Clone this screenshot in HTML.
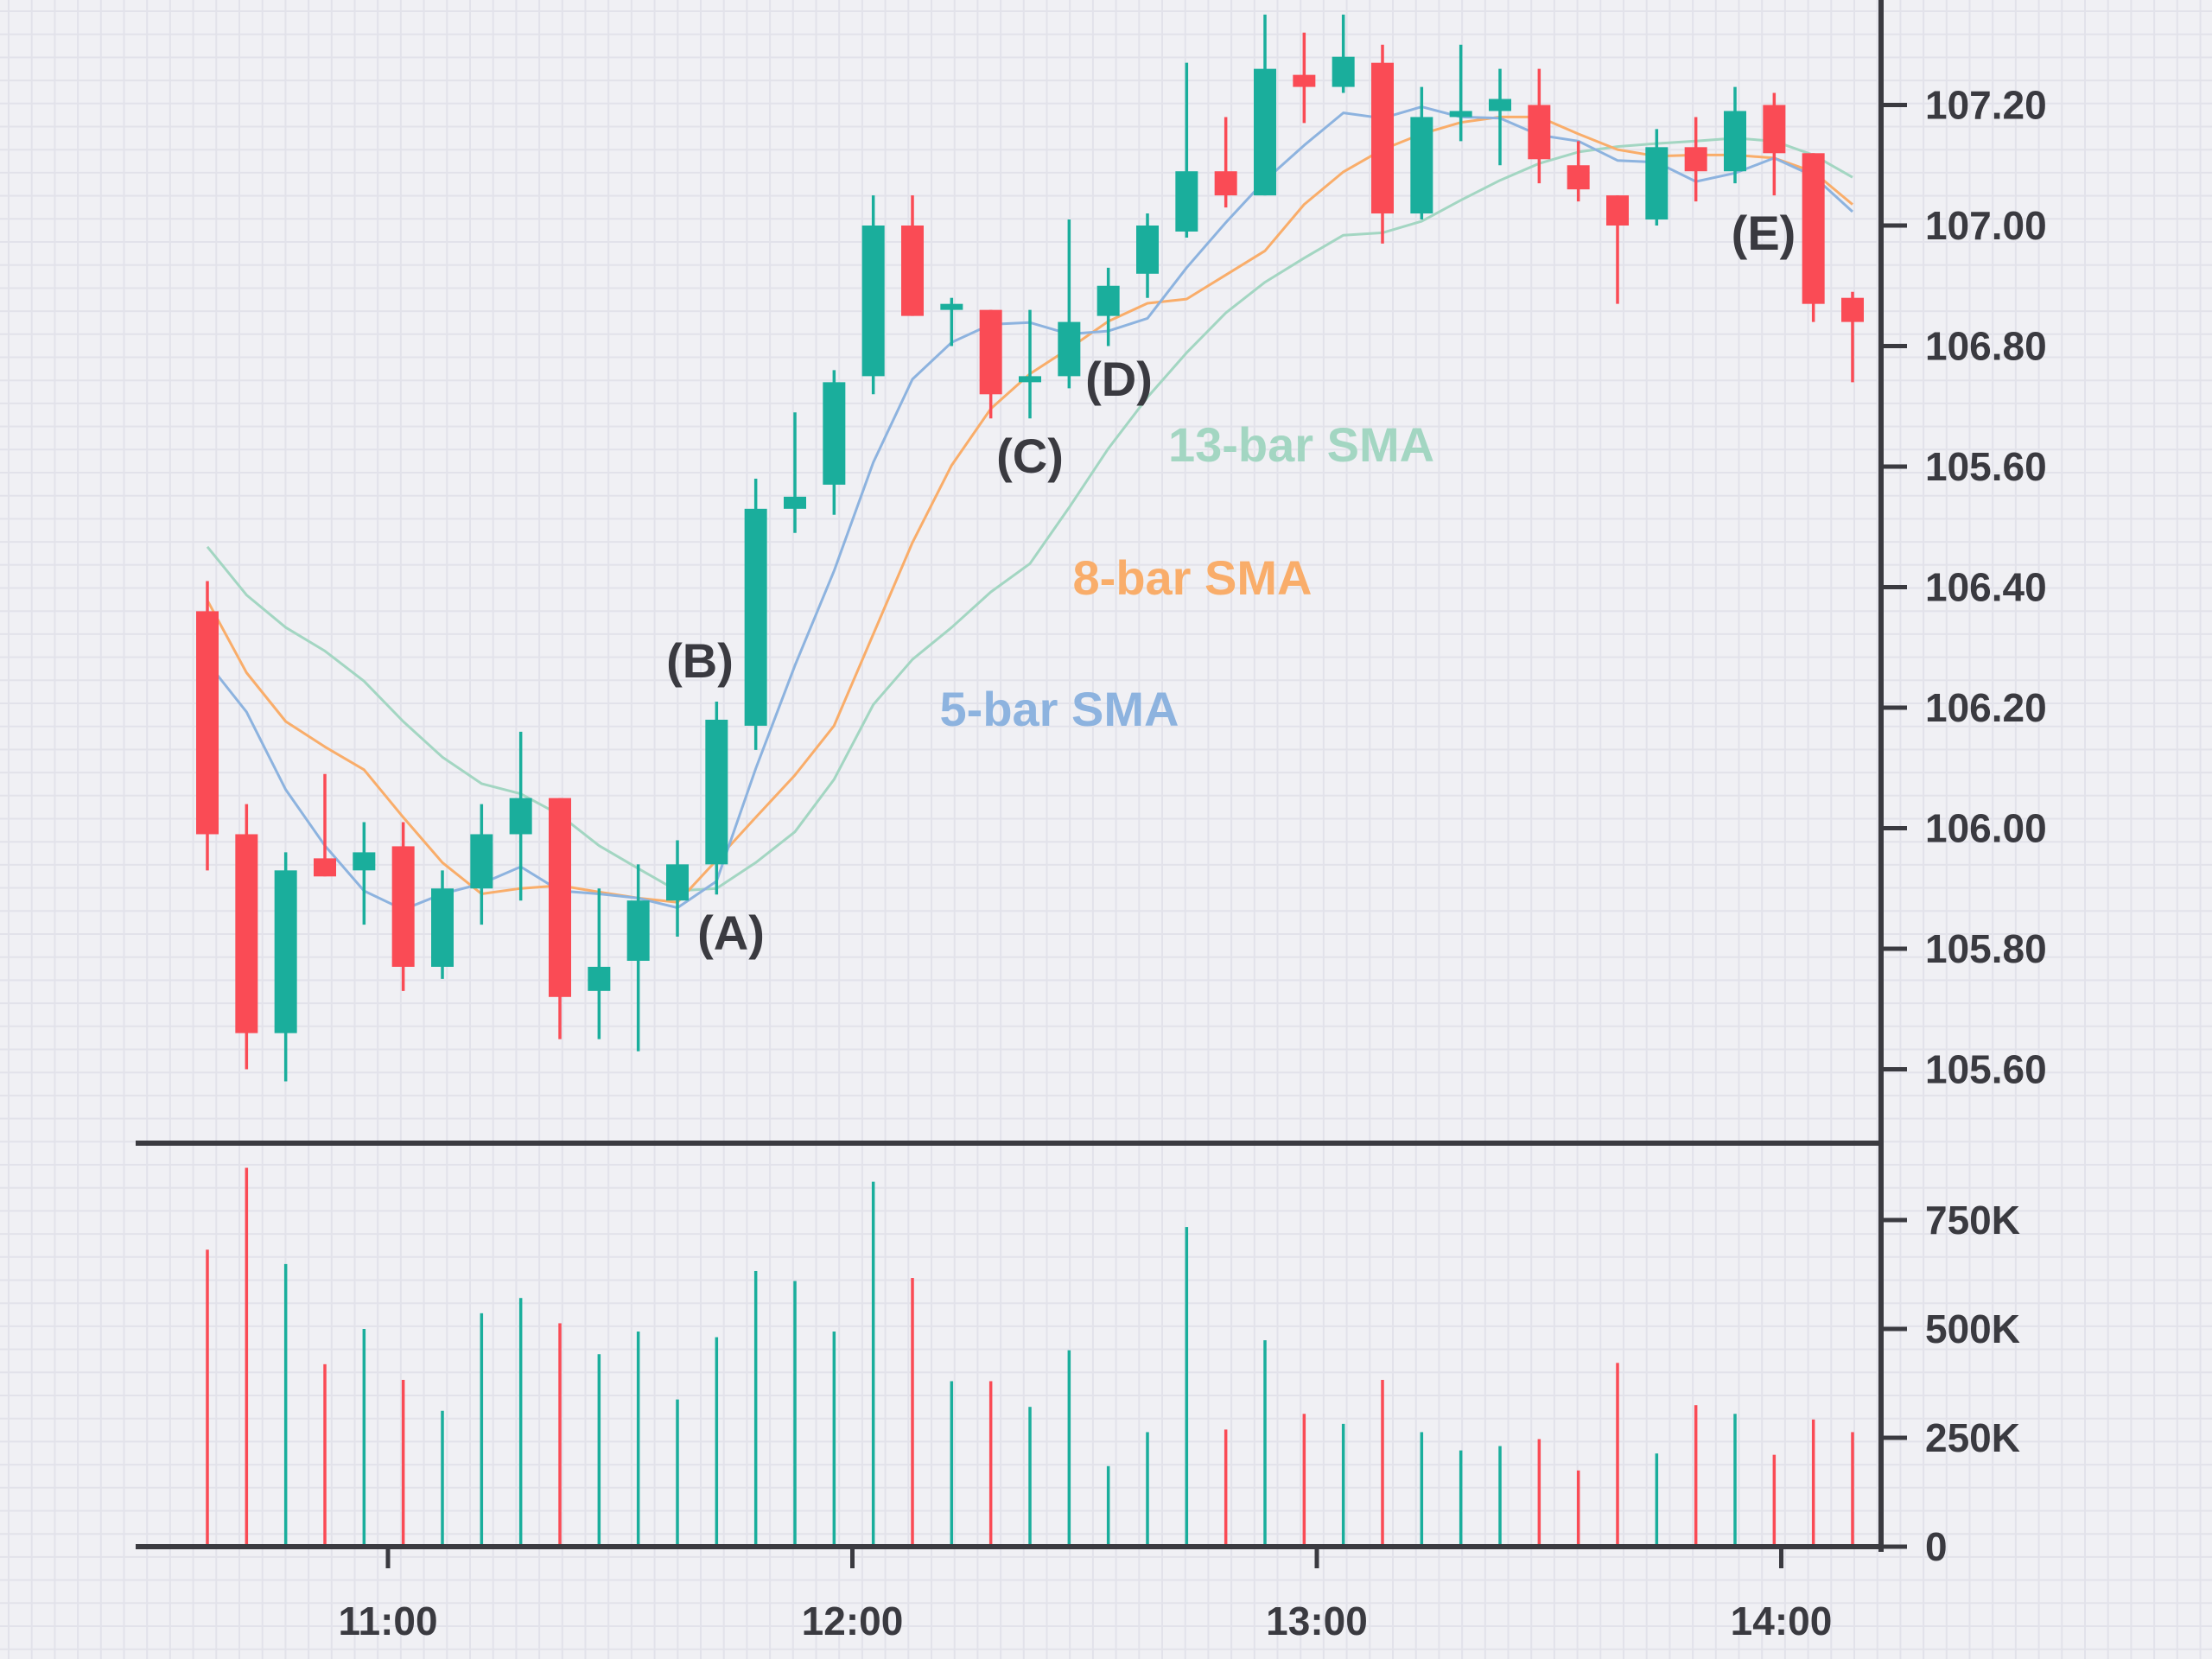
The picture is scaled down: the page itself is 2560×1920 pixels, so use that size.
<!DOCTYPE html>
<html><head><meta charset="utf-8">
<style>
html,body{margin:0;padding:0;background:#f0f0f4;}
svg{display:block;font-family:"Liberation Sans",sans-serif;}
</style></head>
<body>
<svg id="chart" width="2560" height="1920" viewBox="0 0 2560 1920" xmlns="http://www.w3.org/2000/svg">
<rect x="0" y="0" width="2560" height="1920" fill="#f0f0f4"/>
<g id="grid"></g>
<g id="vols"></g>
<g id="smas"></g>
<g id="candles"></g>
<g id="axes"></g>
<g font-size="56" font-weight="bold" fill="#3a3a40" text-anchor="middle">
<text x="846" y="1099">(A)</text>
<text x="810" y="784">(B)</text>
<text x="1192" y="547">(C)</text>
<text x="1295" y="458">(D)</text>
<text x="2041" y="289">(E)</text>
</g>
<g font-size="56" font-weight="bold" text-anchor="middle">
<text x="1506" y="534" fill="#a3d6c2">13-bar SMA</text>
<text x="1380" y="688" fill="#f9ad6a">8-bar SMA</text>
<text x="1226" y="840" fill="#8db3df">5-bar SMA</text>
</g>
</svg>
<script>
const opens  = [106.36,105.99,105.66,105.95,105.93,105.97,105.77,105.90,105.99,106.05,105.73,105.78,105.88,105.94,106.17,106.53,106.57,106.75,107.00,106.86,106.86,106.74,106.75,106.85,106.92,106.99,107.09,107.05,107.25,107.23,107.27,107.02,107.18,107.19,107.20,107.10,107.05,107.01,107.13,107.09,107.20,107.12,106.88];
const highs  = [106.41,106.04,105.96,106.09,106.01,106.01,105.93,106.04,106.16,106.05,105.90,105.94,105.98,106.21,106.58,106.69,106.76,107.05,107.05,106.88,106.86,106.86,107.01,106.93,107.02,107.27,107.18,107.35,107.32,107.35,107.30,107.23,107.30,107.26,107.26,107.14,107.05,107.16,107.18,107.23,107.22,107.12,106.89];
const lows   = [105.93,105.60,105.58,105.92,105.84,105.73,105.75,105.84,105.88,105.65,105.65,105.63,105.82,105.89,106.13,106.49,106.52,106.72,106.85,106.80,106.68,106.68,106.73,106.80,106.88,106.98,107.03,107.05,107.17,107.22,106.97,107.01,107.14,107.10,107.07,107.04,106.87,107.00,107.04,107.07,107.05,106.84,106.74];
const closes = [105.99,105.66,105.93,105.92,105.96,105.77,105.90,105.99,106.05,105.72,105.77,105.88,105.94,106.18,106.53,106.55,106.74,107.00,106.85,106.87,106.72,106.75,106.84,106.90,107.00,107.09,107.05,107.26,107.23,107.28,107.02,107.18,107.19,107.21,107.11,107.06,107.00,107.13,107.09,107.19,107.12,106.87,106.84];
const volumes = [682,870,649,419,500,383,312,536,571,513,442,494,338,481,633,610,494,838,617,380,380,321,451,185,263,734,269,474,305,282,383,263,221,231,247,175,422,214,325,305,211,292,263];
const sma5  = [106.275,106.193,106.064,105.971,105.896,105.865,105.891,105.908,105.936,105.896,105.891,105.884,105.868,105.912,106.099,106.27,106.427,106.607,106.745,106.806,106.836,106.839,106.82,106.825,106.846,106.93,107.005,107.075,107.133,107.187,107.178,107.197,107.18,107.178,107.15,107.14,107.108,107.105,107.073,107.087,107.112,107.082,107.023];
const sma8  = [106.378,106.258,106.177,106.135,106.097,106.018,105.943,105.891,105.90,105.905,105.894,105.884,105.877,105.947,106.018,106.088,106.17,106.322,106.474,106.602,106.696,106.754,106.796,106.841,106.871,106.878,106.918,106.958,107.035,107.089,107.126,107.152,107.171,107.18,107.18,107.152,107.126,107.115,107.117,107.117,107.112,107.089,107.035];
const sma13 = [106.467,106.387,106.333,106.294,106.244,106.177,106.118,106.074,106.057,106.022,105.971,105.933,105.896,105.90,105.943,105.994,106.081,106.205,106.28,106.333,106.392,106.439,106.532,106.63,106.715,106.789,106.855,106.906,106.946,106.984,106.988,107.007,107.042,107.075,107.103,107.122,107.131,107.136,107.14,107.145,107.14,107.117,107.08];
const priceTicks = [107.40,107.20,107.00,106.80,106.60,106.40,106.20,106.00,105.80,105.60];
const priceTickLabels = ["107.40","107.20","107.00","106.80","105.60","106.40","106.20","106.00","105.80","105.60"];
const volTicks = [0,250,500,750];
const volTickLabels = ["0","250K","500K","750K"];
const timeTicks = [0,60,120,180];
const timeTickLabels = ["11:00","12:00","13:00","14:00"];

const NS="http://www.w3.org/2000/svg";
const GREEN="#1aae9c", RED="#fa4b55";
function xOfMin(t){return 449 + t*537.5/60;}
function xOfBar(i){return 240 + i*(2144-240)/(opens.length-1);}
function yP(p){return 261 + (107 - p)*697.5;}
function yV(v){return 1790 - v*126/250;}
function mk(tag,attrs,parent){const e=document.createElementNS(NS,tag);for(const k in attrs)e.setAttribute(k,attrs[k]);parent.appendChild(e);return e;}

const grid=document.getElementById('grid');
for(let x=10;x<2560;x+=26.7){const l=mk('line',{x1:x,y1:0,x2:x,y2:1920,stroke:'#e2e2ea','stroke-width':2},grid);

}
for(let y=13;y<1920;y+=26.7){const l=mk('line',{x1:0,y1:y,x2:2560,y2:y,stroke:'#e2e2ea','stroke-width':2},grid);

}

const vg=document.getElementById('vols');
volumes.forEach((v,i)=>{const up=closes[i]>=opens[i];
const r=mk('rect',{x:xOfBar(i)-1.75,y:yV(v),width:3.5,height:1790-yV(v),fill:up?GREEN:RED},vg);

});

const sg=document.getElementById('smas');
[[sma13,'#a3d6c2','sma13-line'],[sma8,'#f9ad6a','sma8-line'],[sma5,'#8db3df','sma5-line']].forEach(([arr,c,n])=>{
const d=arr.map((v,i)=>(i?'L':'M')+xOfBar(i).toFixed(1)+' '+yP(v).toFixed(1)).join(' ');
const p=mk('path',{d:d,fill:'none',stroke:c,'stroke-width':3,'stroke-linejoin':'round'},sg);

});

const cg=document.getElementById('candles');
opens.forEach((o,i)=>{const c=closes[i];const up=c>=o;const col=up?GREEN:RED;const x=xOfBar(i);
const w=mk('line',{x1:x,x2:x,y1:yP(highs[i]),y2:yP(lows[i]),stroke:col,'stroke-width':3.5},cg);


const top=yP(Math.max(o,c)),bot=yP(Math.min(o,c));
const b=mk('rect',{x:x-13,y:top,width:26,height:Math.max(bot-top,4),fill:col},cg);

});

const ag=document.getElementById('axes');
const AX='#3a3a40';
let e;
e=mk('line',{x1:2177,y1:0,x2:2177,y2:1796,stroke:AX,'stroke-width':6},ag);


e=mk('line',{x1:157,y1:1323,x2:2180,y2:1323,stroke:AX,'stroke-width':6},ag);


e=mk('line',{x1:157,y1:1790,x2:2180,y2:1790,stroke:AX,'stroke-width':6},ag);


priceTicks.forEach((p,i)=>{const y=yP(p);
const t=mk('line',{x1:2177,x2:2207,y1:y,y2:y,stroke:AX,'stroke-width':5},ag);


const tx=mk('text',{x:2228,y:y+16,'font-size':46,'font-weight':'bold',fill:AX},ag);tx.textContent=priceTickLabels[i];

});
volTicks.forEach((v,i)=>{const y=yV(v);
const t=mk('line',{x1:2177,x2:2207,y1:y,y2:y,stroke:AX,'stroke-width':5},ag);


const tx=mk('text',{x:2228,y:y+16,'font-size':46,'font-weight':'bold',fill:AX},ag);tx.textContent=volTickLabels[i];

});
timeTicks.forEach((t0,i)=>{const x=xOfMin(t0);
const t=mk('line',{x1:x,x2:x,y1:1790,y2:1815,stroke:AX,'stroke-width':5},ag);


const tx=mk('text',{x:x,y:1892,'font-size':46,'font-weight':'bold',fill:AX,'text-anchor':'middle'},ag);tx.textContent=timeTickLabels[i];

});
</script>
</body></html>
